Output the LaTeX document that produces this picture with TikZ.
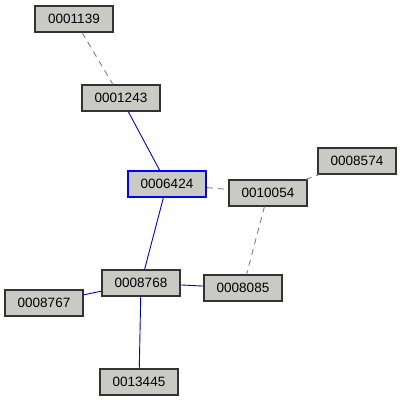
\documentclass[tikz,border=0pt]{standalone}
\usepackage{fontspec}
\setmainfont{Liberation Sans}
\begin{document}
\begin{tikzpicture}[x=1pt,y=-1pt,
  box/.style={draw=black!80,line width=1.2pt,fill=boxfill,minimum width=78pt,minimum height=26pt,inner sep=0pt,font=\fontsize{13.5}{14}\selectfont},
  sel/.style={box,draw=blue,line width=2pt},
  strong/.style={blue!85!black,line width=0.9pt},
  weak/.style={gray,dashed,dash pattern=on 6pt off 5pt,line width=0.9pt}]
\definecolor{boxfill}{RGB}{200,202,195}
\useasboundingbox (0,0) rectangle (402,402);
\fill[white] (0,0) rectangle (402,402);
\node[box] (a) at (74,19) {0001139};
\node[box] (b) at (121,98) {0001243};
\node[sel] (c) at (167,184) {0006424};
\node[box] (d) at (268,193) {0010054};
\node[box] (e) at (357,161) {0008574};
\node[box] (f) at (141,283) {0008768};
\node[box] (g) at (243,288) {0008085};
\node[box] (h) at (44,303) {0008767};
\node[box] (i) at (139,382) {0013445};
\draw[weak] (a) -- (b);
\draw[strong] (b) -- (c);
\draw[weak] (c) -- (d);
\draw[weak] (d) -- (e);
\draw[weak] (d) -- (g);
\draw[strong] (c) -- (f);
\draw[strong] (f) -- (h);
\draw[strong] (f) -- (g);
\draw[strong] (f) -- (i);
\end{tikzpicture}
\end{document}
